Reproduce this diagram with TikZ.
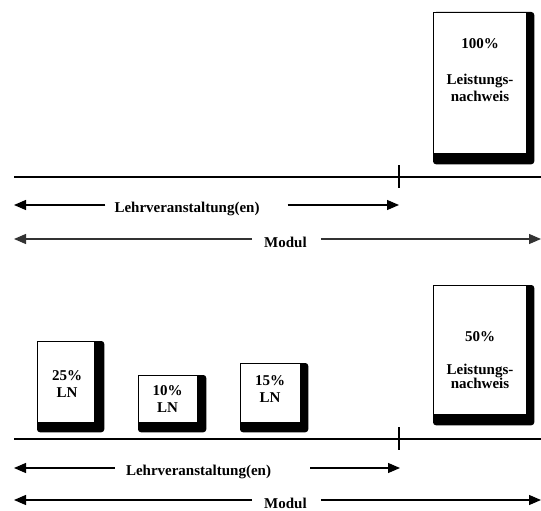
\documentclass[tikz,border=0pt]{standalone}
\usepackage{fontspec}
\setmainfont{Liberation Serif}
\usetikzlibrary{arrows.meta,backgrounds,calc}
\tikzstyle{lnbox}=[draw, fill=white, line width=1.3pt, inner sep=0pt, anchor=north west]
\tikzstyle{lntext}=[font=\bfseries\fontsize{15}{17}\selectfont, align=center, inner sep=0pt]
\tikzstyle{shadow}=[fill=black, rounded corners=3pt]
\tikzstyle{span}=[line width=1.2pt, -{Triangle[length=12pt,width=10pt]}]
\tikzstyle{axis}=[line width=1.6pt]

\begin{document}
\begin{tikzpicture}[x=1pt, y=-1pt]
\useasboundingbox (0,0) rectangle (541,511);
% Upper part: one Leistungsnachweis
    \node[lnbox, minimum width=93pt, minimum height=141pt] (lnTop) at (433,12) {};
    \node[lntext, anchor=north] (lnTopT) at (480,38) {100\%\\[19pt]Leistungs-\\nachweis};
    \draw[axis] (14,177) -- (541,177);
    \draw[axis] (399,165) -- (399,188);
% Upper arrows
    \coordinate (lvTopL) at (14,205);
    \coordinate (lvTopR) at (399,205);
    \coordinate (modTopL) at (14,239);
    \coordinate (modTopR) at (541,239);
    \node[lntext, anchor=base] (lvTop) at (187,212) {Lehrveranstaltung(en)};
    \node[lntext, anchor=base] (modTop) at (285.5,247) {Modul};
    \draw[span] ($(lvTop.west |- lvTopL)+(-9pt,0)$) -- (lvTopL);
    \draw[span] ($(lvTop.east |- lvTopR)+(28pt,0)$) -- (lvTopR);
    \draw[span, black!80] ($(modTop.west |- modTopL)+(-12pt,0)$) -- (modTopL);
    \draw[span, black!80] ($(modTop.east |- modTopR)+(14pt,0)$) -- (modTopR);
% Lower part: several LN
    \node[lnbox, minimum width=57pt, minimum height=81pt] (ln25) at (37,341) {};
    \node[lnbox, minimum width=59pt, minimum height=47pt] (ln10) at (138,375) {};
    \node[lnbox, minimum width=60pt, minimum height=59pt] (ln15) at (240,363) {};
    \node[lnbox, minimum width=93pt, minimum height=129pt] (lnBot) at (433,285) {};
    \node[lntext, anchor=north] (ln25T) at (67,370) {25\%\\LN};
    \node[lntext, anchor=north] (ln10T) at (167.5,385) {10\%\\LN};
    \node[lntext, anchor=north] (ln15T) at (270,375) {15\%\\LN};
    \node[lntext, anchor=north] (lnBotT) at (480,331) {50\%\\[16pt]Leistungs-\\[-3pt]nachweis};
    \draw[axis] (14,439) -- (541,439);
    \draw[axis] (399,427) -- (399,450);
% Lower arrows
    \coordinate (lvBotL) at (14,468);
    \coordinate (lvBotR) at (400,468);
    \coordinate (modBotL) at (14,500);
    \coordinate (modBotR) at (541,500);
    \node[lntext, anchor=base] (lvBot) at (198.5,475) {Lehrveranstaltung(en)};
    \node[lntext, anchor=base] (modBot) at (285.5,508) {Modul};
    \draw[span] ($(lvBot.west |- lvBotL)+(-11pt,0)$) -- (lvBotL);
    \draw[span] ($(lvBot.east |- lvBotR)+(39pt,0)$) -- (lvBotR);
    \draw[span] ($(modBot.west |- modBotL)+(-12pt,0)$) -- (modBotL);
    \draw[span] ($(modBot.east |- modBotR)+(14pt,0)$) -- (modBotR);
% Shadows
\begin{pgfonlayer}{background}
    \fill[shadow] (lnTop.north west) rectangle ([shift={(7pt,-10pt)}]lnTop.south east);
    \fill[shadow] (lnBot.north west) rectangle ([shift={(7pt,-10pt)}]lnBot.south east);
    \fill[shadow] (ln25.north west) rectangle ([shift={(9pt,-9pt)}]ln25.south east);
    \fill[shadow] (ln10.north west) rectangle ([shift={(8pt,-9pt)}]ln10.south east);
    \fill[shadow] (ln15.north west) rectangle ([shift={(7pt,-9pt)}]ln15.south east);
\end{pgfonlayer}
\end{tikzpicture}
\end{document}
